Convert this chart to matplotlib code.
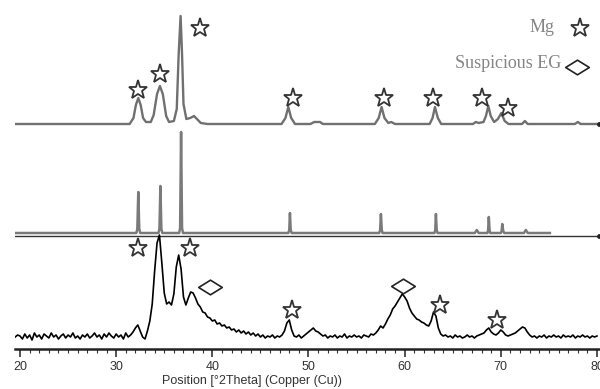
import numpy as np
import matplotlib
matplotlib.use("Agg")
import matplotlib.pyplot as plt
from matplotlib.path import Path

# ---- data (heights in arbitrary units above each pattern's baseline) ----
# top pattern: (2theta, intensity) points
top_x = [19.5, 31.4, 31.8, 32.05, 32.3, 32.55, 32.8, 33.1, 33.6, 33.9, 34.25, 34.55, 34.85, 35.2, 35.5,
         36.0, 36.3, 36.5, 36.7, 36.85, 37.0, 37.3, 37.7, 38.1, 38.4, 38.8, 39.5,
         47.2, 47.6, 47.9, 48.2, 48.6, 50.2, 50.6, 51.2, 51.5,
         56.9, 57.3, 57.6, 57.9, 58.3, 58.6, 59.0,
         62.6, 62.9, 63.15, 63.45, 63.8, 67.1, 67.4, 67.7, 68.2, 68.45, 68.7, 68.95, 69.3,
         69.7, 70.05, 70.4, 70.8, 72.2, 72.5, 72.8, 77.7, 78.0, 78.3, 80.2]
top_y = [0, 0, 6, 19, 26, 19, 6, 2, 2, 9, 30, 38, 30, 8, 2,
         3, 15, 70, 108, 70, 20, 5, 6, 8, 5, 1, 0,
         0, 6, 17, 6, 0, 0, 2, 2, 0,
         0, 6, 17, 6, 1, 2, 0,
         0, 6, 17, 6, 0, 0, 2, 1, 2, 8, 18, 8, 2,
         5, 11, 3, 0, 0, 3, 0, 0, 2, 0, 0]

# middle pattern (reference pattern, sharp lines)
mid_x = [19.5, 32.1, 32.2, 32.3, 32.4, 32.5, 34.4, 34.5, 34.6, 34.7, 34.8,
         36.55, 36.65, 36.75, 36.85, 36.95, 47.9, 48.0, 48.07, 48.15, 48.25,
         57.35, 57.45, 57.53, 57.62, 57.7, 63.1, 63.18, 63.25, 63.33, 63.42,
         67.3, 67.5, 67.7, 68.6, 68.68, 68.75, 68.83, 68.9,
         70.0, 70.08, 70.15, 70.25, 70.35, 72.4, 72.6, 72.8, 75.1]
mid_y = [0, 0, 4, 41, 4, 0, 0, 4, 47, 4, 0,
         0, 5, 101, 5, 0, 0, 3, 20, 3, 0,
         0, 3, 19, 3, 0, 0, 3, 19, 3, 0,
         0, 3, 0, 0, 3, 16, 3, 0,
         0, 2, 9, 2, 0, 0, 3, 0, 0]

# bottom pattern, measured every 0.25 deg from 19.5 to 80
bot_y = [12, 14,
         13, 10, 15, 11,  14, 9, 16, 12,  14, 10, 15, 13,  11, 16, 12, 14,
         10, 13, 15, 11,  14, 12, 16, 11,  13, 10, 14, 12,  15, 11, 13, 16,
         12, 14, 10, 15,  12, 16, 13, 11,  15, 12, 14, 10,  16, 12, 14, 17,
         21, 24, 18, 12,  10, 18, 28, 45,  78, 106, 114, 86,  56, 45, 47, 44,
         55, 82, 94, 80,  52, 44, 51, 57,  56, 51, 45, 42,  37, 36, 32, 31,
         28, 29, 25, 26,  23, 24, 21, 22,  19, 20, 17, 19,  16, 18, 15, 17,
         14, 16, 13, 15,  12, 14, 11, 13,  12, 14, 11, 13,  12, 14, 18, 26,
         29, 19, 13, 12,  14, 11, 13, 15,  17, 19, 21, 18,  17, 15, 13, 14,
         11, 13, 12, 14,  11, 13, 12, 15,  11, 13, 12, 14,  12, 13, 11, 14,
         13, 12, 15, 14,  16, 19, 23, 21,  25, 30, 34, 40,  43, 47, 51, 55,
         52, 48, 41, 36,  33, 30, 29, 27,  26, 24, 23, 28,  37, 33, 21, 15,
         13, 14, 12, 13,  11, 14, 12, 13,  11, 12, 14, 12,  13, 11, 13, 14,
         15, 16, 19, 21,  17, 15, 14, 16,  19, 17, 14, 13,  14, 15, 16, 18,
         20, 22, 21, 17,  14, 12, 13, 11,  13, 12, 14, 11,  13, 12, 14, 12,
         13, 11, 14, 12,  13, 12, 14, 11,  13, 12, 14, 12,  13, 11, 13, 12,
         13]
bot_x = np.arange(19.5, 80.01, 0.25)

# phase markers: (2theta, height above axis)
mg_top_x = [32.3, 34.6, 38.7, 48.4, 57.9, 62.95, 68.0, 70.7]
mg_top_h = [259, 275, 321, 251, 251, 251, 251, 241]
mg_bot_x = [32.3, 37.7, 48.3, 63.7, 69.6]
mg_bot_h = [101, 101, 39, 44, 29]
eg_x = [39.75, 59.8]
eg_h = [62, 63]

# ---- figure ----
W, H = 600, 389
fig = plt.figure(figsize=(W / 100, H / 100), dpi=100)
ax = fig.add_axes([15 / W, 40 / H, 585 / W, 349 / H])
ax.set_xlim(20 - 5 / 9.617, 80 + 3 / 9.617)
ax.set_ylim(0, 349)

top_off, mid_off = 225, 116

ax.plot(top_x, np.array(top_y) + top_off, color="#707070", lw=1.7)
ax.plot([80.2], [top_off], "o", color="#222", ms=2.5, clip_on=False)
ax.plot(mid_x, np.array(mid_y) + mid_off, color="#7a7a7a", lw=1.8)
ax.plot([19.5, 80.2], [mid_off - 3, mid_off - 3], color="#333", lw=1.0)
ax.plot([80.2], [mid_off - 3], "o", color="#222", ms=2.5, clip_on=False)
ax.plot(bot_x, bot_y, color="#000", lw=1.2)

star_kw = dict(marker="*", ls="none", ms=14, mfc="white", mec="#333", mew=1.3, clip_on=False)
diamond = Path([(-1, 0), (0, 0.62), (1, 0), (0, -0.62), (-1, 0)],
               [Path.MOVETO, Path.LINETO, Path.LINETO, Path.LINETO, Path.CLOSEPOLY])
dia_kw = dict(marker=diamond, ls="none", ms=17, mfc="white", mec="#222", mew=1.2, clip_on=False)

ax.plot(mg_top_x, mg_top_h, **star_kw)
ax.plot(mg_bot_x, mg_bot_h, **star_kw)
ax.plot(eg_x, eg_h, **dia_kw)

# legend
ax.plot([78.23], [321], **star_kw)
ax.plot([77.9], [282], **dia_kw)
ax.text(75.6, 321, "Mg", ha="right", va="center", family="Liberation Serif",
        fontsize=13, color="#858585")
ax.text(76.3, 286, "Suspicious EG", ha="right", va="center", family="Liberation Serif",
        fontsize=13, color="#858585")

# axis
for s in ["left", "right", "top"]:
    ax.spines[s].set_visible(False)
ax.spines["bottom"].set_linewidth(1.8)
ax.spines["bottom"].set_color("#222")
ax.set_yticks([])
ax.set_xticks(range(20, 81, 10))
ax.set_xticks(range(20, 81, 1), minor=True)
ax.tick_params(axis="x", which="major", length=6, width=1.2, color="#333",
               labelsize=9, labelcolor="#333", pad=3)
ax.tick_params(axis="x", which="minor", length=3, width=0.8, color="#333")
for lbl in ax.get_xticklabels():
    lbl.set_family("Liberation Sans")
ax.set_xlabel("Position [°2Theta] (Copper (Cu))", family="Liberation Sans",
              fontsize=9, color="#333", labelpad=2)
ax.xaxis.set_label_coords(0.405, -0.075)

fig.savefig("out.png", dpi=100)
